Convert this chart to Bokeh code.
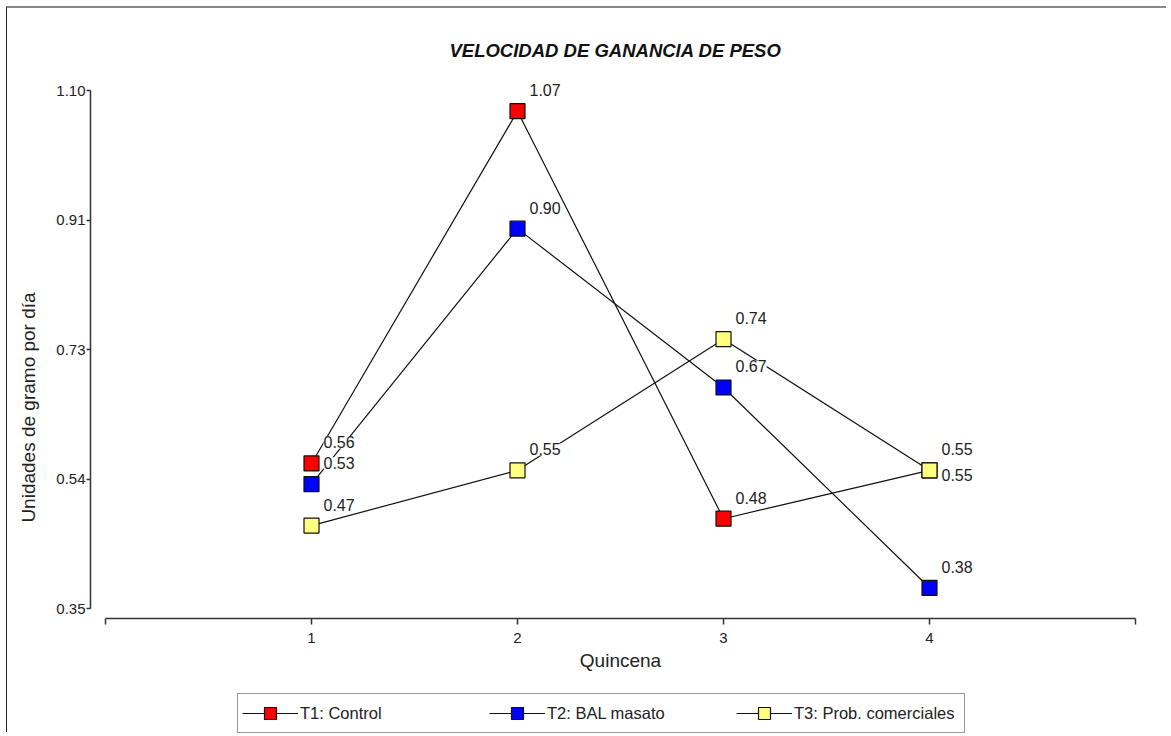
from bokeh.plotting import figure
from bokeh.models import (ColumnDataSource, LabelSet, Legend, LegendItem,
                          FixedTicker, Range1d)
from bokeh.core.properties import value
from bokeh.embed import file_html
from bokeh.resources import INLINE

# ---- data ----
quincena = [1, 2, 3, 4]
t1_control = [0.56, 1.07, 0.48, 0.55]
t2_bal_masato = [0.53, 0.90, 0.67, 0.38]
t3_prob_comerciales = [0.47, 0.55, 0.74, 0.55]
series_names = ["T1: Control", "T2: BAL masato", "T3: Prob. comerciales"]
series_colors = ["#ff0000", "#0000ff", "#ffff80"]
x_ticks = [0, 1, 2, 3, 4, 5]
y_ticks = [0.35, 0.5375, 0.725, 0.9125, 1.10]
y_tick_labels = ["0.35", "0.54", "0.73", "0.91", "1.10"]

FONT = "Liberation Sans"
TXT = "#222222"

Y_LO, Y_HI = y_ticks[0], y_ticks[-1]
PX_PER_Y = 518 / (Y_HI - Y_LO)          # axis length in pixels / span
p = figure(width=1160, height=726, output_backend="svg", toolbar_location=None,
           x_range=Range1d(-15 / 206, 5 + 5 / 206),
           y_range=Range1d(Y_LO - 126 / PX_PER_Y, Y_HI + 10 / PX_PER_Y),
           min_border_left=83, min_border_right=27, min_border_top=72,
           min_border_bottom=0)
p.styles = {"border-left": "1px solid #222222", "border-top": "2px solid #888888",
            "margin-left": "6px", "margin-top": "6px"}

p.title.text = "VELOCIDAD DE GANANCIA DE PESO"
p.title.align = "center"
p.title.text_font = FONT
p.title.text_font_style = "bold italic"
p.title.text_font_size = "18.5px"
p.title.text_color = "#111111"
p.title.standoff = 39
p.title.offset = 9

p.grid.visible = False
p.outline_line_color = None

xa = p.xaxis[0]
xa.ticker = FixedTicker(ticks=x_ticks)
xa.major_label_overrides = {0: "", 5: ""}
xa.bounds = (x_ticks[0], x_ticks[-1])
xa.fixed_location = Y_LO - 10 / PX_PER_Y
xa.axis_label = "Quincena"
ya = p.yaxis[0]
ya.ticker = FixedTicker(ticks=y_ticks)
ya.major_label_overrides = {t: l for t, l in zip(y_ticks, y_tick_labels)}
ya.bounds = (Y_LO, Y_HI)
ya.axis_label = "Unidades de gramo por día"
for ax in (xa, ya):
    ax.major_tick_in = 0
    ax.major_tick_out = 6
    ax.minor_tick_line_color = None
    ax.axis_line_color = "#333333"
    ax.axis_line_width = 1.5
    ax.major_tick_line_color = "#333333"
    ax.major_tick_line_width = 1.5
    ax.major_label_text_font = FONT
    ax.major_label_text_font_size = "15px"
    ax.major_label_text_color = TXT
    ax.axis_label_text_font = FONT
    ax.axis_label_text_font_size = "19px"
    ax.axis_label_text_font_style = "normal"
    ax.axis_label_text_color = TXT
xa.major_label_standoff = 8
xa.axis_label_standoff = 4
ya.major_tick_out = 4
ya.major_label_standoff = 1
ya.axis_label_standoff = 14

all_series = [t1_control, t2_bal_masato, t3_prob_comerciales]
sources = [ColumnDataSource(dict(x=quincena, y=vals)) for vals in all_series]

line_rs = []
for src in sources:
    line_rs.append(p.line("x", "y", source=src, line_color="#111111", line_width=1.2))

# labels (white background so lines are interrupted behind them)
for i, vals in enumerate(all_series):
    up = dict(x=[], y=[], lab=[])
    down = dict(x=[], y=[], lab=[])
    for j, v in enumerate(vals):
        target = down if (i == 0 and j == 3) else up
        target["x"].append(quincena[j]); target["y"].append(v); target["lab"].append(f"{v:.2f}")
    for d, yoff, base in ((up, 15, "bottom"), (down, 1, "top")):
        if not d["x"]:
            continue
        ls = LabelSet(x="x", y="y", text="lab", source=ColumnDataSource(d),
                      x_offset=12, y_offset=yoff, text_baseline=base, text_align="left",
                      text_font=value(FONT), text_font_size=value("16px"),
                      text_color=TXT, background_fill_color="white")
        p.add_layout(ls)

marker_rs = []
for src, col in zip(sources, series_colors):
    marker_rs.append(p.scatter("x", "y", source=src, marker="square", size=15,
                               fill_color=col, line_color="#111111", line_width=1.2))

items = [LegendItem(label=n, renderers=[lr, mr])
         for n, lr, mr in zip(series_names, line_rs, marker_rs)]
legend = Legend(items=items, orientation="horizontal", location=(147, 1),
                label_text_font=FONT, label_text_font_size="16.5px", label_text_color=TXT,
                glyph_width=56, glyph_height=30, label_width=166, label_standoff=2,
                spacing=23, padding=4, margin=0,
                border_line_color="#333333", border_line_width=1.5,
                background_fill_color="white")
p.add_layout(legend)

open("out.html", "w").write(file_html(p, INLINE))
